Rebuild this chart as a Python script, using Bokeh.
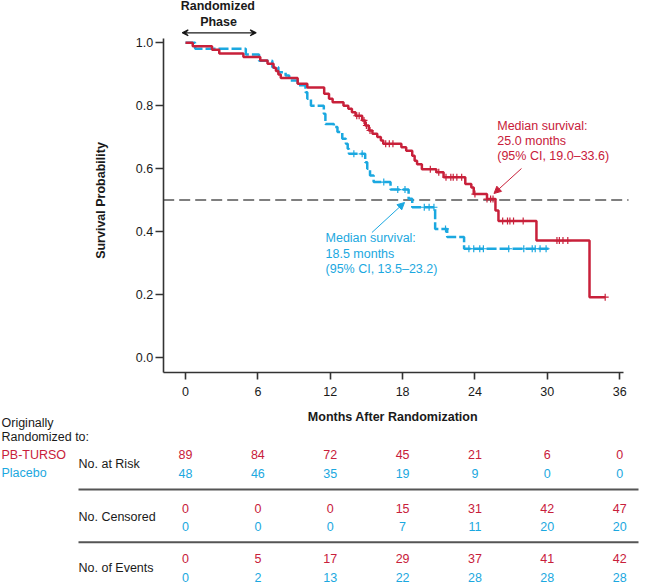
import numpy as np
from bokeh.plotting import figure
from bokeh.models import Range1d, Arrow, NormalHead, VeeHead, FixedTicker, LinearAxis
from bokeh.embed import file_html
from bokeh.resources import INLINE
from bokeh.core.properties import value

RED = "#C8203A"
BLUE = "#1BA8E0"
FONT = "Liberation Sans"
AX = "#333333"
TXT = "#1a1a1a"

# ---------------- data ----------------
months = [0, 6, 12, 18, 24, 30, 36]
y_ticks = [0.0, 0.2, 0.4, 0.6, 0.8, 1.0]
y_tick_labels = ["0.0", "0.2", "0.4", "0.6", "0.8", "1.0"]

# PB-TURSO Kaplan-Meier steps (time in months, survival after step)
red_t = [0, 0.6, 2.2, 2.8, 4.8, 6.2, 6.8, 7.3, 7.5, 7.7, 7.9, 9.3, 10.1, 11.5, 11.9, 12.2,
         13.1, 13.5, 13.8, 14.1, 14.65, 14.9, 15.2, 15.5, 15.9, 16.2, 16.4, 17.9, 18.3, 18.8,
         19.0, 19.2, 19.6, 20.8, 21.4, 23.2, 23.7, 23.9, 25.0, 25.7, 25.95, 29.1, 33.5, 34.8]
red_s = [1.0, 0.989, 0.978, 0.966, 0.955, 0.944, 0.933, 0.921, 0.910, 0.899, 0.888, 0.870, 0.858,
         0.838, 0.822, 0.811, 0.800, 0.790, 0.779, 0.768, 0.753, 0.737, 0.721, 0.711, 0.700,
         0.689, 0.679, 0.668, 0.657, 0.641, 0.625, 0.614, 0.598, 0.588, 0.572, 0.551, 0.540,
         0.519, 0.503, 0.467, 0.433, 0.371, 0.191, 0.191]
red_cens = [14.2, 14.4, 14.8, 15.0, 15.3, 16.6, 16.9, 17.2, 20.3, 21.0, 21.6, 22.0, 22.2, 22.5,
            22.9, 24.0, 25.0, 25.3, 25.5, 26.3, 26.7, 26.9, 27.2, 28.0, 30.8, 31.0, 31.3, 31.7, 34.8]

# Placebo Kaplan-Meier steps
blue_t = [0, 0.8, 5.0, 6.1, 7.2, 7.7, 8.3, 8.6, 9.3, 9.95, 10.1, 10.4, 11.47, 11.6, 12.3, 12.6,
          13.0, 13.3, 13.45, 13.55, 14.9, 15.07, 15.3, 15.6, 17.0, 18.5, 18.8, 20.7, 21.7, 23.1, 30.1]
blue_s = [1.0, 0.981, 0.963, 0.943, 0.922, 0.906, 0.896, 0.880, 0.865, 0.843, 0.822, 0.800, 0.774,
          0.742, 0.732, 0.716, 0.695, 0.679, 0.663, 0.647, 0.620, 0.599, 0.578, 0.557, 0.533,
          0.504, 0.477, 0.408, 0.382, 0.345, 0.345]
blue_cens = [13.96, 14.65, 16.44, 17.6, 18.2, 19.8, 20.2, 20.6, 21.56, 23.5, 23.9, 24.4, 24.7,
             26.8, 28.05, 28.75, 29.0, 29.4, 29.9]

median_level = 0.5

# risk table
risk_pb = [89, 84, 72, 45, 21, 6, 0]
risk_pl = [48, 46, 35, 19, 9, 0, 0]
cens_pb = [0, 0, 0, 15, 31, 42, 47]
cens_pl = [0, 0, 0, 7, 11, 20, 20]
events_pb = [0, 5, 17, 29, 37, 41, 42]
events_pl = [0, 2, 13, 22, 28, 28, 28]


def step_value(ts, ss, x):
    idx = np.searchsorted(np.array(ts), np.array(x), side="right") - 1
    return list(np.array(ss)[idx])


# ---------------- layout constants ----------------
W, H = 648, 584
PX_PER_MONTH = 12.06
X0 = 185.0            # pixel of month 0
PX_PER_UNIT = 314.4
Y0 = 356.7            # pixel of survival 0.0
X_AX_LEFT, X_AX_RIGHT = -1.849, 36.34
Y_AX_BOTTOM, Y_AX_TOP = -0.0496, 1.0137

p = figure(width=W, height=H,
           x_range=Range1d(-X0 / PX_PER_MONTH, (W - X0) / PX_PER_MONTH),
           y_range=Range1d((Y0 - H) / PX_PER_UNIT, Y0 / PX_PER_UNIT),
           toolbar_location=None, output_backend="svg",
           x_axis_type=None, y_axis_type=None,
           min_border=0, min_border_left=0, min_border_right=0,
           min_border_top=0, min_border_bottom=0)
p.extra_y_ranges = {"table": Range1d(start=H, end=0)}
p.outline_line_color = None
p.grid.visible = False
p.background_fill_color = "white"
p.border_fill_color = "white"

xaxis = LinearAxis(fixed_location=Y_AX_BOTTOM, ticker=FixedTicker(ticks=months),
                   bounds=(X_AX_LEFT, X_AX_RIGHT))
yaxis = LinearAxis(fixed_location=X_AX_LEFT, ticker=FixedTicker(ticks=y_ticks),
                   bounds=(Y_AX_BOTTOM, Y_AX_TOP))
yaxis.major_label_overrides = {t: l for t, l in zip(y_ticks, y_tick_labels)}
for ax in (xaxis, yaxis):
    ax.axis_line_color = AX
    ax.axis_line_width = 1.6
    ax.major_tick_line_color = AX
    ax.major_tick_line_width = 1.6
    ax.major_tick_in = 0
    ax.minor_tick_line_color = None
    ax.major_label_text_font = FONT
    ax.major_label_text_font_size = "12.5px"
    ax.major_label_text_color = TXT
xaxis.major_tick_out = 7
xaxis.major_label_standoff = 7
yaxis.major_tick_out = 8
yaxis.major_label_standoff = 2
p.add_layout(xaxis, "below")
p.add_layout(yaxis, "left")

# median reference line
p.line([X_AX_LEFT, (628 - X0) / PX_PER_MONTH], [median_level, median_level],
       line_color="#555555", line_width=1.6, line_dash="11 5")

# KM curves
p.step(blue_t, blue_s, mode="after", line_color=BLUE, line_width=2.5, line_dash="10 3")
p.step(red_t, red_s, mode="after", line_color=RED, line_width=2.5)
p.scatter(blue_cens, step_value(blue_t, blue_s, blue_cens), marker="cross", size=7,
          line_color=BLUE, line_width=1.2)
p.scatter(red_cens, step_value(red_t, red_s, red_cens), marker="cross", size=7,
          line_color=RED, line_width=1.2)


def txt(xs, ys, labels, color, align="center", bold=False, size="12.5px", angle=0.0,
        table=False):
    kw = dict(y_range_name="table") if table else {}
    p.text(x=xs, y=ys, text=labels, text_align=align, text_baseline="middle", angle=angle,
           text_font=value(FONT), text_font_size=size,
           text_font_style="bold" if bold else "normal", text_color=color, **kw)


# axis titles
txt([-6.97], [0.4984], ["Survival Probability"], TXT, bold=True, angle=np.pi / 2)
txt([17.2], [416.7], ["Months After Randomization"], TXT, bold=True, table=True)

# randomized phase header
txt([2.68, 2.74], [1.1155, 1.0677], ["Randomized", "Phase"], TXT, bold=True)
p.add_layout(Arrow(x_start=-0.27, y_start=1.0318, x_end=5.86, y_end=1.0318, line_color=TXT,
                   line_width=1.2,
                   start=VeeHead(size=6, line_color=TXT, line_width=1.2),
                   end=VeeHead(size=6, line_color=TXT, line_width=1.2)))

# median annotations
txt([25.85] * 3, [0.7347, 0.6861, 0.6384],
    ["Median survival:", "25.0 months", "(95% CI, 19.0\u201333.6)"], RED, align="left")
txt([11.61] * 3, [0.3785, 0.3267, 0.2790],
    ["Median survival:", "18.5 months", "(95% CI, 13.5\u201323.2)"], BLUE, align="left")
p.add_layout(Arrow(x_start=27.86, y_start=0.6002, x_end=25.58, y_end=0.5207, line_color=RED,
                   line_width=1, end=NormalHead(size=7, fill_color=RED, line_color=RED)))
p.add_layout(Arrow(x_start=15.46, y_start=0.3966, x_end=18.16, y_end=0.4920, line_color=BLUE,
                   line_width=1, end=NormalHead(size=7, fill_color=BLUE, line_color=BLUE)))

# ---------------- risk table ----------------
LEFT_COL = (1 - X0) / PX_PER_MONTH
LABEL_COL = (78 - X0) / PX_PER_MONTH
RIGHT_END = (638 - X0) / PX_PER_MONTH

txt([LEFT_COL, LEFT_COL], [422.3, 436.0], ["Originally", "Randomized to:"], TXT, align="left",
    table=True)
txt([LEFT_COL], [454.0], ["PB-TURSO"], RED, align="left", table=True)
txt([LEFT_COL], [472.7], ["Placebo"], BLUE, align="left", table=True)
txt([LABEL_COL] * 3, [463.3, 516.7, 567.7], ["No. at Risk", "No. Censored", "No. of Events"],
    TXT, align="left", table=True)

txt(months, [454.0] * 7, [str(v) for v in risk_pb], RED, table=True)
txt(months, [472.7] * 7, [str(v) for v in risk_pl], BLUE, table=True)
txt(months, [507.7] * 7, [str(v) for v in cens_pb], RED, table=True)
txt(months, [526.0] * 7, [str(v) for v in cens_pl], BLUE, table=True)
txt(months, [557.7] * 7, [str(v) for v in events_pb], RED, table=True)
txt(months, [576.5] * 7, [str(v) for v in events_pl], BLUE, table=True)

p.segment(x0=[LABEL_COL, LABEL_COL], y0=[489.0, 541.7], x1=[RIGHT_END, RIGHT_END],
          y1=[489.0, 541.7], line_color="#555555", line_width=2, y_range_name="table")

open("out.html", "w").write(file_html(p, INLINE))
